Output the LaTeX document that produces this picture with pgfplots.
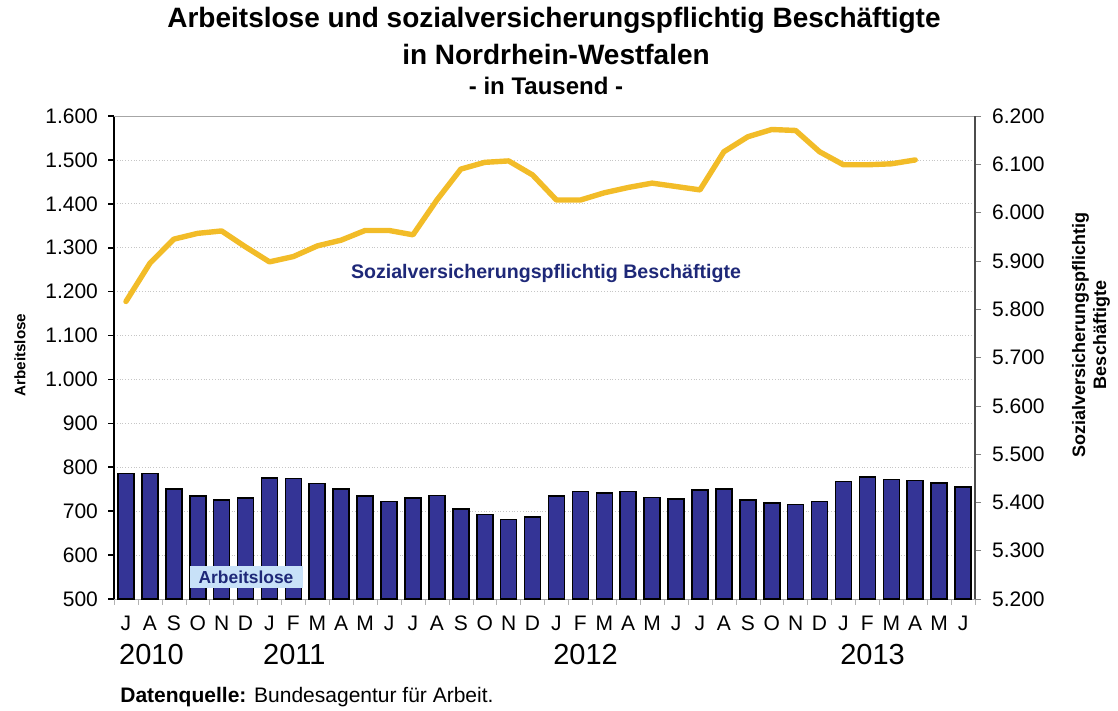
\documentclass[border=0pt]{standalone}
\usepackage{pgfplots}
\pgfplotsset{compat=1.18}
\usepackage{fontspec}
\setmainfont{Liberation Sans}
\definecolor{barblue}{RGB}{52,52,150}
\definecolor{gold}{RGB}{242,188,40}
\definecolor{navy}{RGB}{30,40,120}
\definecolor{boxblue}{RGB}{200,225,248}
\begin{document}
\begin{tikzpicture}
\path[use as bounding box] (0,0) rectangle (559pt,355.5pt);
\begin{axis}[
  at={(57pt,56pt)}, anchor=south west,
  scale only axis, width=430.5pt, height=241.5pt,
  xmin=-0.5, xmax=35.5, ymin=500, ymax=1600,
  axis x line*=bottom, axis y line*=left,
  x axis line style={gray!70},
  y axis line style={black, line width=1pt},
  ytick={500,600,...,1600},
  ymajorgrids, grid style={densely dotted, gray!45},
  xtick={0,...,35},
  xticklabels={J,A,S,O,N,D,J,F,M,A,M,J,J,A,S,O,N,D,J,F,M,A,M,J,J,A,S,O,N,D,J,F,M,A,M,J},
  minor xtick={-0.5,0.5,...,35.5},
  major x tick style={draw=none},
  minor x tick style={gray!60},
  minor tick length=3pt,
  major tick length=3pt,
  ytick style={black, line width=0.8pt},
  tick align=outside,
  /pgf/number format/.cd, 1000 sep={.}, assume math mode=true,
  /pgfplots/.cd,
  tick label style={font=\fontsize{10.5}{12}\selectfont},
  yticklabel style={xshift=-1.5pt},
  xticklabel style={yshift=-1pt, text height=8pt, text depth=0pt},
  clip=false,
]
\addplot[ybar, bar width=8pt, fill=barblue, draw=black, line width=0.8pt] coordinates {
(0,786) (1,786) (2,751) (3,734) (4,726) (5,730) (6,776) (7,774) (8,763) (9,750) (10,734) (11,722)
(12,730) (13,736) (14,705) (15,692) (16,681) (17,687) (18,735) (19,745) (20,741) (21,745) (22,731) (23,728)
(24,748) (25,751) (26,725) (27,719) (28,715) (29,722) (30,768) (31,778) (32,772) (33,770) (34,764) (35,755)
};
\draw[gray!70] (rel axis cs:0,1) -- (rel axis cs:1,1);
\node[anchor=west, inner sep=0pt, font=\fontsize{14.5}{16}\selectfont] at (axis cs:-0.3,500) [yshift=-28pt] {2010};
\node[anchor=west, inner sep=0pt, font=\fontsize{14.5}{16}\selectfont] at (axis cs:5.72,500) [yshift=-28pt] {2011};
\node[anchor=west, inner sep=0pt, font=\fontsize{14.5}{16}\selectfont] at (axis cs:17.85,500) [yshift=-28pt] {2012};
\node[anchor=west, inner sep=0pt, font=\fontsize{14.5}{16}\selectfont] at (axis cs:29.85,500) [yshift=-28pt] {2013};
\end{axis}
\begin{axis}[
  at={(57pt,56pt)}, anchor=south west,
  scale only axis, width=430.5pt, height=241.5pt,
  xmin=-0.5, xmax=35.5, ymin=5200, ymax=6200,
  axis x line=none, axis y line*=right,
  y axis line style={gray!60!black, line width=0.6pt},
  ytick={5200,5300,...,6200},
  ytick style={gray},
  major tick length=3pt,
  tick align=outside,
  /pgf/number format/.cd, 1000 sep={.}, assume math mode=true,
  /pgfplots/.cd,
  tick label style={font=\fontsize{10.5}{12}\selectfont},
  yticklabel style={xshift=2pt},
]
\addplot[gold, line width=2.7pt, line join=round, line cap=round] coordinates {
(0,5816) (1,5895) (2,5945) (3,5957) (4,5962) (5,5929) (6,5898) (7,5909) (8,5931) (9,5943) (10,5963) (11,5963)
(12,5954) (13,6026) (14,6090) (15,6104) (16,6107) (17,6078) (18,6026) (19,6026) (20,6041) (21,6052) (22,6061) (23,6054)
(24,6047) (25,6126) (26,6157) (27,6172) (28,6170) (29,6126) (30,6099) (31,6099) (32,6101) (33,6109)
};
\end{axis}
\node[font=\bfseries\fontsize{14}{16}\selectfont] at (277pt,345.5pt) {Arbeitslose und sozialversicherungspflichtig Beschäftigte};
\node[font=\bfseries\fontsize{14}{16}\selectfont] at (278pt,328pt) {in Nordrhein-Westfalen};
\node[font=\bfseries\fontsize{12}{14}\selectfont] at (273pt,312.5pt) {- in Tausend -};
\node[rotate=90, font=\bfseries\fontsize{7.6}{9}\selectfont] at (10pt,178pt) {Arbeitslose};
\node[rotate=90, align=center, font=\bfseries\fontsize{9}{10.5}\selectfont] at (545.5pt,188pt) {Sozialversicherungspflichtig\\Beschäftigte};
\node[font=\bfseries\fontsize{9.8}{11}\selectfont, text=navy] at (273pt,219pt) {Sozialversicherungspflichtig Beschäftigte};
\node[fill=boxblue, text=navy, font=\bfseries\fontsize{8.7}{10}\selectfont, minimum width=56.5pt, minimum height=11pt, inner sep=1pt] at (123pt,67pt) {Arbeitslose};
\node[anchor=west, inner sep=0pt, font=\fontsize{10.5}{12}\selectfont] at (60pt,7pt) {\textbf{Datenquelle:} Bundesagentur für Arbeit.};
\end{tikzpicture}
\end{document}
